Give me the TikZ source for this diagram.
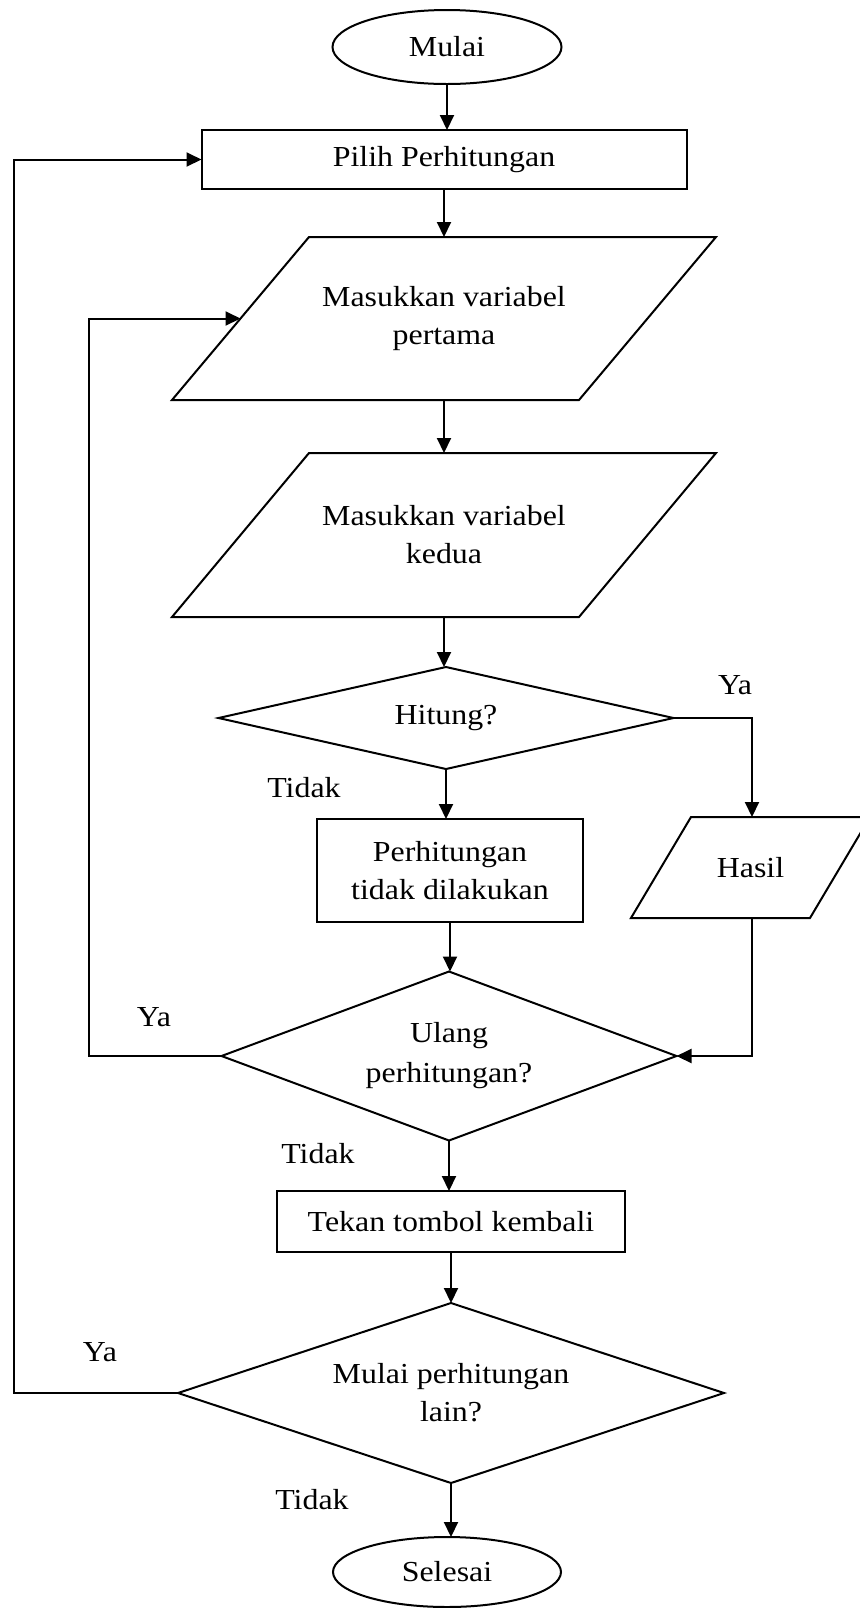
\documentclass[tikz,border=0pt]{standalone}
\usepackage{fontspec}
\setmainfont{Liberation Serif}[FakeStretch=1.1]
\usetikzlibrary{shapes.geometric,arrows.meta,calc}
\begin{document}
\begin{tikzpicture}[x=0.5pt,y=-0.5pt,
  every node/.style={font=\fontsize{14.5}{19}\selectfont, inner sep=0pt, outer sep=0pt},
  line/.style={line width=1pt, line join=miter},
  arr/.style={line width=1pt,-{Triangle[length=7.5pt,width=7pt]}},
  term/.style={ellipse, draw, line width=1pt},
  proc/.style={rectangle, draw, line width=1pt, align=center},
  iobox/.style={rectangle, align=center},
  dec/.style={diamond, draw, aspect=3, line width=1pt, align=center}
]
\useasboundingbox (0,0) rectangle (860,1608);

% nodes
\node[term, minimum width=114.5pt, minimum height=37pt] (mulai) at (447,47) {Mulai};
\node[proc, minimum width=242.5pt, minimum height=29.5pt] (pilih) at (444,159.5) {Pilih Perhitungan};
\node[iobox, minimum width=272pt, minimum height=81.5pt] (in1) at (444,318.5) {Masukkan variabel\\pertama};
\node[iobox, minimum width=272pt, minimum height=82pt] (in2) at (444,535) {Masukkan variabel\\kedua};
\node[dec, minimum width=227.5pt, minimum height=51pt] (hitung) at (446,718) {Hitung?};
\node[proc, minimum width=133pt, minimum height=51.5pt] (tidak1) at (450,870.5) {Perhitungan\\tidak dilakukan};
\node[iobox, minimum width=119.5pt, minimum height=50.5pt] (hasil) at (750.5,867.5) {Hasil};
\node[dec, minimum width=227.5pt, minimum height=84.5pt, font=\fontsize{14.5}{20}\selectfont] (ulang) at (449,1056) {Ulang\\perhitungan?};
\node[proc, minimum width=174pt, minimum height=30.5pt] (tekan) at (451,1221.5) {Tekan tombol kembali};
\node[dec, minimum width=273pt, minimum height=90pt] (lain) at (451,1393) {Mulai perhitungan\\lain?};
\node[term, minimum width=114pt, minimum height=35pt] (selesai) at (447,1572) {Selesai};

% parallelogram outlines
\draw[line] ($(in1.north west)+(68.5pt,0)$) -- (in1.north east) -- ($(in1.south east)-(68.5pt,0)$) -- (in1.south west) -- cycle;
\draw[line] ($(in2.north west)+(68.5pt,0)$) -- (in2.north east) -- ($(in2.south east)-(68.5pt,0)$) -- (in2.south west) -- cycle;
\draw[line] ($(hasil.north west)+(30pt,0)$) -- (hasil.north east) -- ($(hasil.south east)-(30pt,0)$) -- (hasil.south west) -- cycle;

% helper coordinates
\coordinate (in1e) at ($(in1.west)+(34.25pt,0)$);
\coordinate (hx) at (752,0);
\coordinate (loopa) at (89,0);
\coordinate (loopb) at (14,0);

% labels
\node (ya1) at (735,685) {Ya};
\node (td1) at (304,788) {Tidak};
\node (ya2) at (154,1017) {Ya};
\node (td2) at (318,1154) {Tidak};
\node (ya3) at (100,1352) {Ya};
\node (td3) at (312,1500) {Tidak};

% connectors
\draw[arr] (mulai.south) -- (mulai.south |- pilih.north);
\draw[arr] (pilih.south) -- (pilih.south |- in1.north);
\draw[arr] (in1.south) -- (in1.south |- in2.north);
\draw[arr] (in2.south) -- (in2.south |- hitung.north);
\draw[arr] (hitung.south) -- (hitung.south |- tidak1.north);
\draw[arr] (hitung.east) -- (hitung.east -| hx) -- (hasil.north -| hx);
\draw[arr] (tidak1.south) -- (tidak1.south |- ulang.north);
\draw[arr] (hasil.south -| hx) -- (ulang.east -| hx) -- (ulang.east);
\draw[arr] (ulang.west) -- (ulang.west -| loopa) -- (in1e -| loopa) -- (in1e);
\draw[arr] (ulang.south) -- (ulang.south |- tekan.north);
\draw[arr] (tekan.south) -- (tekan.south |- lain.north);
\draw[arr] (lain.west) -- (lain.west -| loopb) -- (pilih.west -| loopb) -- (pilih.west);
\draw[arr] (lain.south) -- (lain.south |- selesai.north);
\end{tikzpicture}
\end{document}
